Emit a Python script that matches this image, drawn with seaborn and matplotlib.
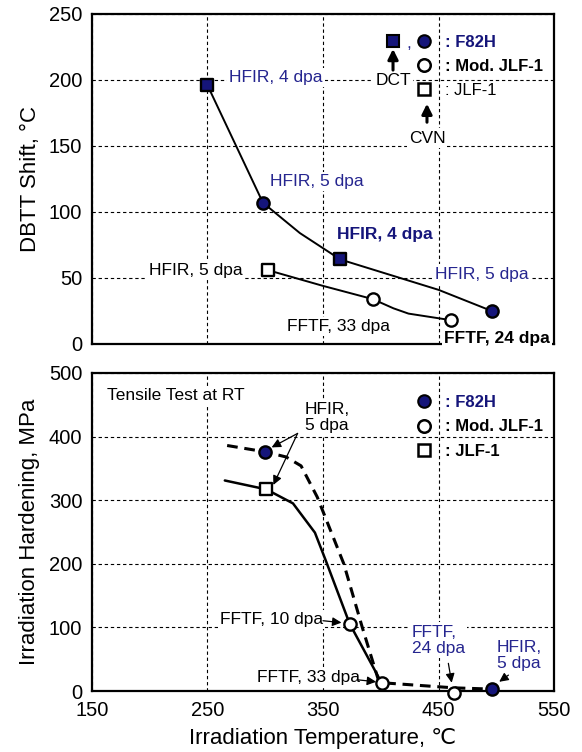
import numpy as np
import pandas as pd
import matplotlib
matplotlib.use("Agg")
import matplotlib.pyplot as plt
from matplotlib.lines import Line2D
from matplotlib.legend_handler import HandlerTuple
import seaborn as sns

# ---- top: DBTT shift (deg C) vs irradiation temperature ----
f82h_dct_T = [250, 365]
f82h_dct_shift = [196, 64]
f82h_cvn_T = [298, 496]
f82h_cvn_shift = [107, 25]
mjlf_cvn_T = [393, 461]
mjlf_cvn_shift = [34, 18]
jlf_cvn_T = [302]
jlf_cvn_shift = [56]

# trend curves
f82h_curve_T = [250, 298, 330, 365, 450, 496]
f82h_curve_shift = [196, 107, 84, 64, 41, 25]
jlf_curve_T = [302, 350, 393, 411, 424, 461]
jlf_curve_shift = [56, 44, 34, 27, 23, 18]

# ---- bottom: irradiation hardening (MPa) ----
f82h_ts_T = [300, 496]
f82h_ts_dh = [376, 3]
mjlf_ts_T = [373, 401, 463]
mjlf_ts_dh = [106, 12, -3]
jlf_ts_T = [301]
jlf_ts_dh = [317]

solid_T = [265, 301, 324, 343, 352, 373, 401]
solid_dh = [331, 317, 295, 249, 207, 106, 12]
dash_T = [267, 300, 318, 331, 345, 368, 384, 398, 401, 463, 496]
dash_dh = [386, 376, 368, 354, 305, 200, 100, 17, 13, 5, 3]

x_ticks = [150, 250, 350, 450, 550]
top_yticks = [0, 50, 100, 150, 200, 250]
bot_yticks = [0, 100, 200, 300, 400, 500]

NAVY = "#15157a"
TXT_BLUE = "#25258f"
FS = 12.5

sns.set_theme(style="white")
plt.rcParams["font.family"] = ["Liberation Sans", "DejaVu Sans"]
plt.rcParams["axes.edgecolor"] = "black"
plt.rcParams["axes.linewidth"] = 1.6

fig = plt.figure(figsize=(5.82, 7.52), dpi=100)
ax1 = fig.add_axes([0.158, 0.5426, 0.794, 0.4388])
ax2 = fig.add_axes([0.158, 0.0811, 0.794, 0.4229])

mk = dict(s=78, edgecolor="black", linewidth=1.7, zorder=4, legend=False)


def style_axes(ax, yticks):
    ax.set_xlim(150, 550)
    ax.set_xticks(x_ticks)
    ax.set_ylim(yticks[0], yticks[-1])
    ax.set_yticks(yticks)
    ax.set_axisbelow(True)
    ax.grid(True, color="black", lw=0.8, linestyle=(0, (3, 2.5)))
    ax.tick_params(length=0, labelsize=14.5, colors="black", pad=7)
    for s in ax.spines.values():
        s.set_color("black")
        s.set_linewidth(1.6)


def legend_handles():
    sq_f = Line2D([], [], ls="", marker="s", ms=9, mfc=NAVY, mec="black", mew=1.5)
    ci_f = Line2D([], [], ls="", marker="o", ms=9, mfc=NAVY, mec="black", mew=1.5)
    ci_o = Line2D([], [], ls="", marker="o", ms=9, mfc="white", mec="black", mew=1.8)
    sq_o = Line2D([], [], ls="", marker="s", ms=9, mfc="white", mec="black", mew=1.8)
    blank = Line2D([], [], ls="", marker="")
    return sq_f, ci_f, ci_o, sq_o, blank


def tb(ax, x, y, s, color="black", weight="normal", size=FS, ha="left", **kw):
    ax.text(x, y, s, color=color, fontweight=weight, fontsize=size, ha=ha,
            va="center", zorder=3,
            bbox=dict(facecolor="white", edgecolor="none", pad=1.5), **kw)


def arrow(ax, tail, head, lw=0.9, hw=0.22, hl=0.45):
    ax.annotate("", xy=head, xytext=tail, zorder=5,
                arrowprops=dict(arrowstyle=f"-|>,head_length={hl},head_width={hw}",
                                lw=lw, color="black", shrinkA=0, shrinkB=0))


# ================= top panel =================
style_axes(ax1, top_yticks)
ax1.set_xticklabels([])
sns.lineplot(x=f82h_curve_T, y=f82h_curve_shift, sort=False, color="black", lw=1.4, ax=ax1, zorder=2)
sns.lineplot(x=jlf_curve_T, y=jlf_curve_shift, sort=False, color="black", lw=1.4, ax=ax1, zorder=2)
sns.scatterplot(x=f82h_dct_T, y=f82h_dct_shift, marker="s", color=NAVY, ax=ax1, **mk)
sns.scatterplot(x=f82h_cvn_T, y=f82h_cvn_shift, marker="o", color=NAVY, ax=ax1, **mk)
sns.scatterplot(x=mjlf_cvn_T, y=mjlf_cvn_shift, marker="o", color="white", ax=ax1, **mk)
sns.scatterplot(x=jlf_cvn_T, y=jlf_cvn_shift, marker="s", color="white", ax=ax1, **mk)
ax1.set_ylabel("DBTT Shift, °C", fontsize=16, color="black", labelpad=6)

tb(ax1, 269, 202, "HFIR, 4 dpa", color=TXT_BLUE)
tb(ax1, 304, 123, "HFIR, 5 dpa", color=TXT_BLUE)
tb(ax1, 362, 83, "HFIR, 4 dpa", color=NAVY, weight="bold")
tb(ax1, 199, 56, "HFIR, 5 dpa")
tb(ax1, 447, 53, "HFIR, 5 dpa", color=TXT_BLUE)
tb(ax1, 319, 13, "FFTF, 33 dpa")
tb(ax1, 455, 4.5, "FFTF, 24 dpa", weight="bold")
tb(ax1, 410.6, 199.5, "DCT", ha="center")
tb(ax1, 440, 156, "CVN", ha="center")
arrow(ax1, (410.6, 207.5), (410.6, 223.5), lw=2.2, hw=0.25, hl=0.5)
arrow(ax1, (440, 168), (440, 182), lw=2.2, hw=0.25, hl=0.5)
ax1.text(424.5, 228, ",", fontsize=FS, color=TXT_BLUE, ha="center", va="center")

sq_f, ci_f, ci_o, sq_o, blank = legend_handles()
leg1 = ax1.legend([(sq_f, ci_f), (blank, ci_o), (blank, sq_o)],
                  [": F82H", ": Mod. JLF-1", ": JLF-1"],
                  handler_map={tuple: HandlerTuple(ndivide=None, pad=0)},
                  loc="upper left", bbox_to_anchor=(0.618, 0.937), frameon=False,
                  borderpad=0, borderaxespad=0, handlelength=3.7, handletextpad=0.35,
                  labelspacing=0.55, fontsize=12)
for t, c, w in zip(leg1.get_texts(), [NAVY, "black", "black"], ["bold", "bold", "normal"]):
    t.set_color(c)
    t.set_fontweight(w)

# ================= bottom panel =================
style_axes(ax2, bot_yticks)
sns.lineplot(x=solid_T, y=solid_dh, sort=False, color="black", lw=1.8, ax=ax2, zorder=2)
sns.lineplot(x=dash_T, y=dash_dh, sort=False, color="black", lw=2.2, ax=ax2, zorder=2,
             linestyle=(0, (3.5, 2.2)))
ax2.set_ylim(0, 500)
sns.scatterplot(x=f82h_ts_T, y=f82h_ts_dh, marker="o", color=NAVY, ax=ax2, clip_on=False, **mk)
sns.scatterplot(x=mjlf_ts_T, y=mjlf_ts_dh, marker="o", color="white", ax=ax2, clip_on=False, **mk)
sns.scatterplot(x=jlf_ts_T, y=jlf_ts_dh, marker="s", color="white", ax=ax2, clip_on=False, **mk)
ax2.set_ylabel("Irradiation Hardening, MPa", fontsize=16, color="black", labelpad=6)
ax2.set_xlabel("Irradiation Temperature, ℃", fontsize=16, color="black", labelpad=6)

tb(ax2, 163, 465, "Tensile Test at RT")
tb(ax2, 334, 430, "HFIR,\n5 dpa", linespacing=1.1)
arrow(ax2, (328, 405), (305.5, 383))
arrow(ax2, (328, 405), (307, 324))
tb(ax2, 261, 112, "FFTF, 10 dpa")
arrow(ax2, (350, 110.5), (366, 107.5))
tb(ax2, 293, 22, "FFTF, 33 dpa")
arrow(ax2, (380.5, 17.5), (396, 14.5))
tb(ax2, 426.7, 80, "FFTF,\n24 dpa", color=TXT_BLUE, linespacing=1.1)
arrow(ax2, (458.5, 43.5), (461.4, 13))
tb(ax2, 500.4, 56, "HFIR,\n5 dpa", color=TXT_BLUE, linespacing=1.1)
arrow(ax2, (510.5, 25), (502.5, 14.5))

sq_f, ci_f, ci_o, sq_o, blank = legend_handles()
leg2 = ax2.legend([(blank, ci_f), (blank, ci_o), (blank, sq_o)],
                  [": F82H", ": Mod. JLF-1", ": JLF-1"],
                  handler_map={tuple: HandlerTuple(ndivide=None, pad=0)},
                  loc="upper left", bbox_to_anchor=(0.618, 0.93), frameon=False,
                  borderpad=0, borderaxespad=0, handlelength=3.7, handletextpad=0.35,
                  labelspacing=0.55, fontsize=12)
for t, c in zip(leg2.get_texts(), [NAVY, "black", "black"]):
    t.set_color(c)
    t.set_fontweight("bold")

fig.savefig("out.png", dpi=100)
